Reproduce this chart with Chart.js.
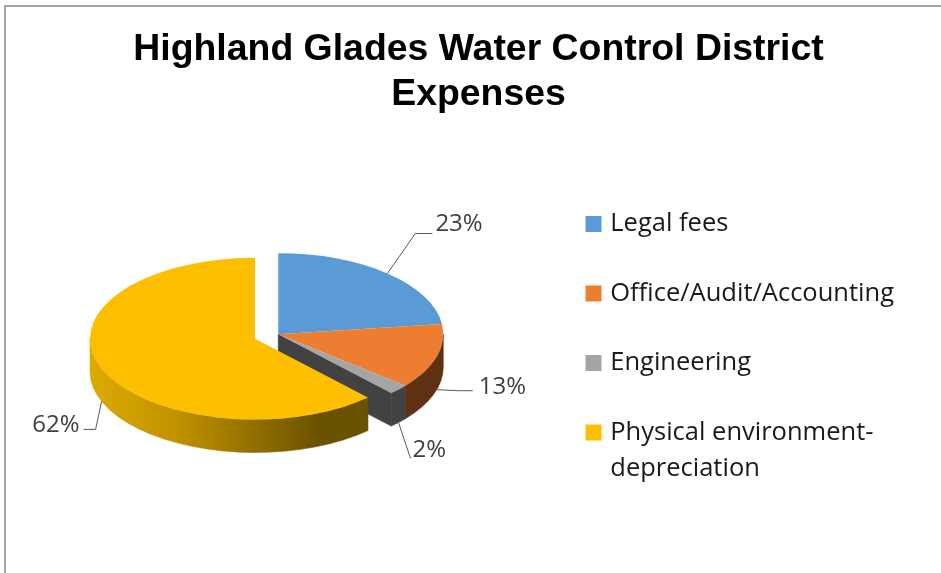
<!DOCTYPE html>
<html>
<head>
<meta charset="utf-8">
<title>Highland Glades Water Control District Expenses</title>
<script src="https://cdn.jsdelivr.net/npm/chart.js@4"></script>
<style>
  html, body { margin: 0; padding: 0; background: #fff; overflow: hidden; }
  #frame { position: absolute; left: 4px; top: 5px; width: 951px; height: 620px; border: 2px solid #a3a3a3; overflow: hidden; }
  canvas { display: block; margin-left: -2px; }
</style>
</head>
<body>
<div id="frame"><canvas id="pie" width="951" height="724"></canvas></div>
<script>
const categories = ["Legal fees", "Office/Audit/Accounting", "Engineering", ["Physical environment-", "depreciation"]];
const percentages = [23, 13, 2, 62];
const sliceColors = ["#5b9bd5", "#ed7d31", "#a5a5a5", "#fdbf00"];
const wallColors = ["#2f5b85", "#5f3113", "#424242", null];
const chartTitle = ["Highland Glades Water Control District", "Expenses"];

// how far each slice is pulled out of the pie, px
const explode = [0, 0, 0, 25];
// leader line for each label, relative to the slice rim: elbow, then end of line
const leaders = [
  { elbow: [28, -40], end: [17, 0] },
  { elbow: [21, 1], end: [15, 0] },
  { elbow: [12, 36], end: [0, 0] },
  { elbow: [-6, 28], end: [-12, 0] },
];
const labelNudge = [[3, -9], [6, -4], [2, -8], [-4, -4]];

const tilt = 0.49;     // squash of the pie disc
const depth = 33;      // height of the pie wall on screen
const pieShiftX = -21; // legend is wide, the pie sits left of the centre of what is left over
const pieLift = -81;   // the disc sits above the legend centre
const labelFont = '24px "Open Sans", sans-serif';

function midAngle(arc) { return (arc.startAngle + arc.endAngle) / 2; }

//Fake 3D pie: squash the context, paint the walls, let Chart.js paint the top faces
const pie3d = {
  id: "pie3d",
  afterDatasetUpdate(chart) {
    chart.getDatasetMeta(0).data.forEach((arc, i) => {
      const a = midAngle(arc);
      arc.x += Math.cos(a) * explode[i];
      arc.y += Math.sin(a) * explode[i];
    });
  },
  beforeDatasetDraw(chart) {
    const ctx = chart.ctx;
    const arcs = chart.getDatasetMeta(0).data;
    const cy = (chart.chartArea.top + chart.chartArea.bottom) / 2;
    const h = depth / tilt;
    ctx.save();
    ctx.translate(pieShiftX, cy + pieLift);
    ctx.scale(1, tilt);
    ctx.translate(0, -cy);
    ctx.lineWidth = 0.8;

    arcs.forEach((arc, i) => {
      const from = Math.max(arc.startAngle, 0);
      const to = Math.min(arc.endAngle, Math.PI);
      if (to <= from) return;
      ctx.beginPath();
      ctx.arc(arc.x, arc.y, arc.outerRadius, from, to);
      ctx.arc(arc.x, arc.y + h, arc.outerRadius, to, from, true);
      ctx.closePath();
      if (wallColors[i]) {
        ctx.fillStyle = wallColors[i];
      } else {
        const g = ctx.createLinearGradient(arc.x - arc.outerRadius, 0, arc.x + Math.cos(from) * arc.outerRadius, 0);
        g.addColorStop(0, "#dcaa00");
        g.addColorStop(0.3, "#c39300");
        g.addColorStop(0.82, "#6b5200");
        g.addColorStop(1, "#6b5200");
        ctx.fillStyle = g;
      }
      ctx.fill();
      // hide the hairline between neighbouring walls
      ctx.strokeStyle = ctx.fillStyle;
      ctx.stroke();
      // the cut face left open by the pulled slice
      if (explode[i] === 0 && explode[i + 1] > 0) {
        const ex = arc.x + Math.cos(arc.endAngle) * arc.outerRadius;
        const ey = arc.y + Math.sin(arc.endAngle) * arc.outerRadius;
        ctx.beginPath();
        ctx.moveTo(arc.x, arc.y);
        ctx.lineTo(ex, ey);
        ctx.lineTo(ex, ey + h);
        ctx.lineTo(arc.x, arc.y + h);
        ctx.closePath();
        ctx.fillStyle = wallColors[i];
        ctx.strokeStyle = wallColors[i];
        ctx.fill();
        ctx.stroke();
      }
    });
  },
  afterDatasetDraw(chart) {
    chart.ctx.restore();
  },
  afterDatasetsDraw(chart) {
    const ctx = chart.ctx;
    const cy = (chart.chartArea.top + chart.chartArea.bottom) / 2;
    chart.getDatasetMeta(0).data.forEach((arc, i) => {
      const a = midAngle(arc);
      const rimX = arc.x + pieShiftX + Math.cos(a) * arc.outerRadius;
      const rimY = cy + pieLift + (arc.y - cy + Math.sin(a) * arc.outerRadius) * tilt;
      // labels on the front half start from the bottom of the wall
      const startY = Math.sin(a) > 0 ? rimY + depth : rimY;
      const l = leaders[i];
      const ex = rimX + l.elbow[0];
      const ey = startY + l.elbow[1];
      ctx.save();
      ctx.strokeStyle = "#595959";
      ctx.lineWidth = 1;
      ctx.beginPath();
      ctx.moveTo(rimX, startY);
      ctx.lineTo(ex, ey);
      ctx.lineTo(ex + l.end[0], ey + l.end[1]);
      ctx.stroke();
      ctx.fillStyle = "#404040";
      ctx.font = labelFont;
      ctx.textBaseline = "middle";
      ctx.textAlign = l.end[0] < 0 ? "right" : "left";
      ctx.fillText(percentages[i] + "%", ex + l.end[0] + labelNudge[i][0], ey + labelNudge[i][1]);
      ctx.restore();
    });
  },
};

new Chart(document.getElementById("pie"), {
  type: "pie",
  plugins: [pie3d],
  data: {
    labels: categories,
    datasets: [{
      data: percentages,
      backgroundColor: sliceColors,
      borderWidth: 0,
    }],
  },
  options: {
    responsive: false,
    animation: false,
    radius: 165,
    layout: { padding: { left: 49, right: 51, top: 0, bottom: 35 } },
    plugins: {
      tooltip: { enabled: false },
      title: {
        display: true,
        text: chartTitle,
        color: "#000",
        font: { family: '"Liberation Sans", Arial, sans-serif', size: 37.4, weight: "bold", lineHeight: 1.18 },
        padding: { top: 21, bottom: 18 },
      },
      legend: {
        position: "right",
        labels: {
          usePointStyle: true,
          pointStyle: "rect",
          boxWidth: 8,
          boxHeight: 16,
          padding: 44,
          color: "#1a1a1a",
          font: { family: '"Open Sans", sans-serif', size: 25.5, lineHeight: 1.41 },
        },
      },
    },
  },
});
</script>
</body>
</html>
